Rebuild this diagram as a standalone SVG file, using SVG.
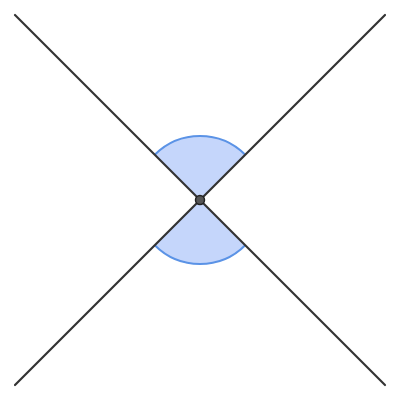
<svg xmlns="http://www.w3.org/2000/svg" width="400" height="400" viewBox="0 0 400 400">
<style>
.sector{fill:#c5d6fb;stroke:none}
.arc{fill:none;stroke:#5b93e6;stroke-width:2}
.line{stroke:#333;stroke-width:2.2;stroke-linecap:round}
</style>
<rect width="400" height="400" fill="#fff"/>
<g id="angle-top">
<path class="sector" d="M200,200 L154.75,154.75 A64,64 0 0 1 245.25,154.75 Z"/>
<path class="arc" d="M154.75,154.75 A64,64 0 0 1 245.25,154.75"/>
</g>
<g id="angle-bottom">
<path class="sector" d="M200,200 L245.25,245.25 A64,64 0 0 1 154.75,245.25 Z"/>
<path class="arc" d="M245.25,245.25 A64,64 0 0 1 154.75,245.25"/>
</g>
<g id="connectors">
<line class="line" x1="15" y1="15" x2="385" y2="385"/>
<line class="line" x1="15" y1="385" x2="385" y2="15"/>
</g>
<g id="vertex">
<circle cx="200" cy="200" r="4.5" fill="#555" stroke="#222" stroke-width="1.5"/>
</g>
</svg>
